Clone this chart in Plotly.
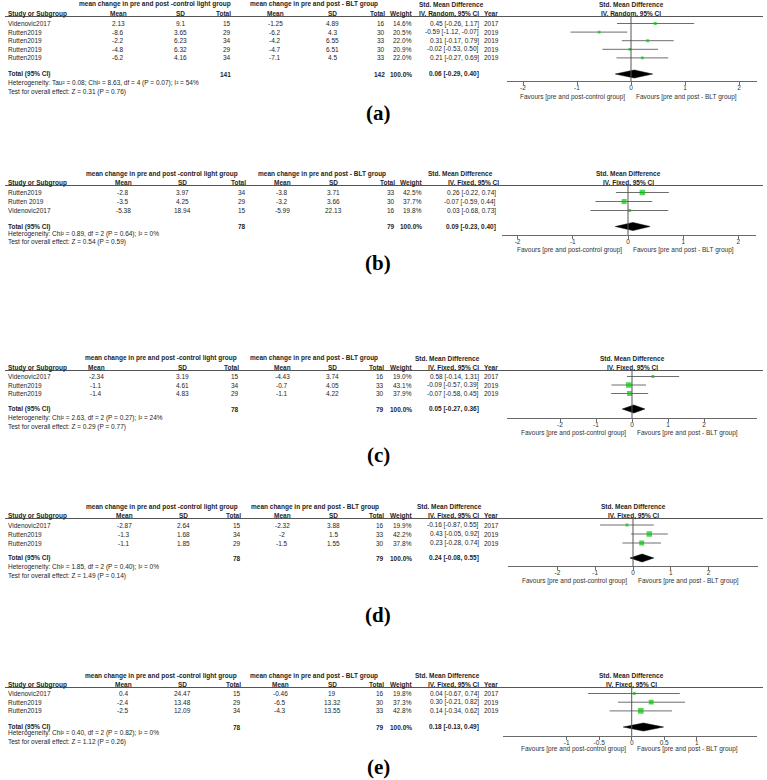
import plotly.graph_objects as go

W, H = 767, 780

# ---------------- DATA ----------------
# Panel (a)
a_study = ["Videnovic2017", "Rutten2019", "Rutten2019", "Rutten2019", "Rutten2019"]
a_ctrl_mean = [2.13, -8.6, -2.2, -4.8, -6.2]
a_ctrl_sd = [9.1, 3.65, 6.23, 6.32, 4.16]
a_ctrl_n = [15, 29, 34, 29, 34]
a_blt_mean = [-1.25, -6.2, -4.2, -4.7, -7.1]
a_blt_sd = [4.89, 4.3, 6.55, 6.51, 4.5]
a_blt_n = [16, 30, 33, 30, 33]
a_weight = [14.6, 20.5, 22.0, 20.9, 22.0]
a_smd = [0.45, -0.59, 0.31, -0.02, 0.21]
a_lo = [-0.26, -1.12, -0.17, -0.53, -0.27]
a_hi = [1.17, -0.07, 0.79, 0.50, 0.69]
a_year = [2017, 2019, 2019, 2019, 2019]
a_total_n = [141, 142]
a_total_smd = [0.06, -0.29, 0.40]
a_method = "IV. Random, 95% CI"
a_het = "Heterogeneity: Tau² = 0.08; Chi² = 8.63, df = 4 (P = 0.07); I² = 54%"
a_test = "Test for overall effect: Z = 0.31 (P = 0.76)"
a_ticks = [-2, -1, 0, 1, 2]

# Panel (b)
b_study = ["Rutten2019", "Rutten 2019", "Videnovic2017"]
b_ctrl_mean = [-2.8, -3.5, -5.38]
b_ctrl_sd = [3.97, 4.25, 18.94]
b_ctrl_n = [34, 29, 15]
b_blt_mean = [-3.8, -3.2, -5.99]
b_blt_sd = [3.71, 3.66, 22.13]
b_blt_n = [33, 30, 16]
b_weight = [42.5, 37.7, 19.8]
b_smd = [0.26, -0.07, 0.03]
b_lo = [-0.22, -0.59, -0.68]
b_hi = [0.74, 0.44, 0.73]
b_year = None
b_total_n = [78, 79]
b_total_smd = [0.09, -0.23, 0.40]
b_method = "IV. Fixed, 95% CI"
b_het = "Heterogeneity: Chi² = 0.89, df = 2 (P = 0.64); I² = 0%"
b_test = "Test for overall effect: Z = 0.54 (P = 0.59)"
b_ticks = [-2, -1, 0, 1, 2]

# Panel (c)
c_study = ["Videnovic2017", "Rutten2019", "Rutten2019"]
c_ctrl_mean = [-2.34, -1.1, -1.4]
c_ctrl_sd = [3.19, 4.61, 4.83]
c_ctrl_n = [15, 34, 29]
c_blt_mean = [-4.43, -0.7, -1.1]
c_blt_sd = [3.74, 4.05, 4.22]
c_blt_n = [16, 33, 30]
c_weight = [19.0, 43.1, 37.9]
c_smd = [0.58, -0.09, -0.07]
c_lo = [-0.14, -0.57, -0.58]
c_hi = [1.31, 0.39, 0.45]
c_year = [2017, 2019, 2019]
c_total_n = [78, 79]
c_total_smd = [0.05, -0.27, 0.36]
c_method = "IV. Fixed, 95% CI"
c_het = "Heterogeneity: Chi² = 2.63, df = 2 (P = 0.27); I² = 24%"
c_test = "Test for overall effect: Z = 0.29 (P = 0.77)"
c_ticks = [-2, -1, 0, 1, 2]

# Panel (d)
d_study = ["Videnovic2017", "Rutten2019", "Rutten2019"]
d_ctrl_mean = [-2.87, -1.3, -1.1]
d_ctrl_sd = [2.64, 1.68, 1.85]
d_ctrl_n = [15, 34, 29]
d_blt_mean = [-2.32, -2, -1.5]
d_blt_sd = [3.88, 1.5, 1.55]
d_blt_n = [16, 33, 30]
d_weight = [19.9, 42.2, 37.8]
d_smd = [-0.16, 0.43, 0.23]
d_lo = [-0.87, -0.05, -0.28]
d_hi = [0.55, 0.92, 0.74]
d_year = [2017, 2019, 2019]
d_total_n = [78, 79]
d_total_smd = [0.24, -0.08, 0.55]
d_method = "IV. Fixed, 95% CI"
d_het = "Heterogeneity: Chi² = 1.85, df = 2 (P = 0.40); I² = 0%"
d_test = "Test for overall effect: Z = 1.49 (P = 0.14)"
d_ticks = [-2, -1, 0, 1, 2]

# Panel (e)
e_study = ["Videnovic2017", "Rutten2019", "Rutten2019"]
e_ctrl_mean = [0.4, -2.4, -2.5]
e_ctrl_sd = [24.47, 13.48, 12.09]
e_ctrl_n = [15, 29, 34]
e_blt_mean = [-0.46, -6.5, -4.3]
e_blt_sd = [19, 13.32, 13.55]
e_blt_n = [16, 30, 33]
e_weight = [19.8, 37.3, 42.8]
e_smd = [0.04, 0.30, 0.14]
e_lo = [-0.67, -0.21, -0.34]
e_hi = [0.74, 0.82, 0.62]
e_year = [2017, 2019, 2019]
e_total_n = [78, 79]
e_total_smd = [0.18, -0.13, 0.49]
e_method = "IV. Fixed, 95% CI"
e_het = "Heterogeneity: Chi² = 0.40, df = 2 (P = 0.82); I² = 0%"
e_test = "Test for overall effect: Z = 1.12 (P = 0.26)"
e_ticks = [-1, -0.5, 0, 0.5, 1]

panel_labels = ["(a)", "(b)", "(c)", "(d)", "(e)"]
hdr_ctrl = "mean change in pre and post -control light group"
hdr_blt = "mean change in pre and post - BLT group"
fav_left = "Favours [pre and post-control group]"
fav_right = "Favours [pre and post - BLT group]"

# ---------------- LAYOUT (pixel positions) ----------------
L = [
    dict(h2=13.5, rule=16.5, r0=23.5, dy=8.6, total=74, het=83, test=91.5, axis=81, fav=97, lab=113,
         dom=(507, 757), x0=631, u=54,
         c=dict(cmean=118, csd=180, cn=232, bmean=275, bsd=332, bn=386, w=413, ci=480, yr=483,
                h1c=155, h1b=314, smd=451, fh=631)),
    dict(h2=182.5, rule=185.5, r0=192.5, dy=9.0, total=226.5, het=234, test=242, axis=235, fav=250, lab=263,
         dom=(502, 756), x0=628, u=55.2,
         c=dict(cmean=123, csd=182, cn=247, bmean=282, bsd=333, bn=396, w=423, ci=497, yr=None,
                h1c=162, h1b=322, smd=460, fh=628)),
    dict(h2=367.5, rule=370.5, r0=376.5, dy=8.5, total=409, het=418, test=427, axis=418, fav=433, lab=455,
         dom=(507, 757), x0=632, u=36,
         c=dict(cmean=96, csd=182, cn=240, bmean=282, bsd=332, bn=385, w=413, ci=480, yr=483,
                h1c=161, h1b=314, smd=447, fh=632)),
    dict(h2=515.5, rule=518.5, r0=525, dy=9.0, total=558, het=567, test=575.5, axis=566, fav=581, lab=615,
         dom=(508, 758), x0=633, u=37.8,
         c=dict(cmean=124, csd=183, cn=242, bmean=282, bsd=333, bn=385, w=413, ci=480, yr=483,
                h1c=162, h1b=315, smd=449, fh=633)),
    dict(h2=684.5, rule=687.5, r0=693.5, dy=8.7, total=727, het=733, test=741.5, axis=736, fav=749, lab=767,
         dom=(503, 757), x0=631.7, u=65,
         c=dict(cmean=123, csd=182, cn=242, bmean=280, bsd=332, bn=385, w=413, ci=480, yr=483,
                h1c=161, h1b=314, smd=447, fh=631)),
]

P = []
for pre in "abcde":
    g = globals()
    P.append({k: g[f"{pre}_{k}"] for k in
              ["study", "ctrl_mean", "ctrl_sd", "ctrl_n", "blt_mean", "blt_sd", "blt_n", "weight",
               "smd", "lo", "hi", "year", "total_n", "total_smd", "method", "het", "test", "ticks"]})

FONT = "Liberation Sans, Arial, sans-serif"
FS = 6.5
TXT = "#1e1e1e"
GREEN = "#00c800"
GRAY = "#6a6a6a"


def py(p):
    return 1 - p / H


def pxx(x):
    return x / W


fig = go.Figure()
ann = []
shapes = []
lay = {}


def t(text, x, y, anchor, yref="paper", bold=False, size=FS, family=FONT, color=TXT):
    if bold:
        text = f"<b>{text}</b>"
    ann.append(dict(text=text, x=x, y=y, xref="paper", yref=yref, xanchor=anchor, yanchor="middle",
                    showarrow=False, font=dict(family=family, size=size, color=color), borderpad=0))


fmt = lambda v: f"{v:g}"

for k, (d, l) in enumerate(zip(P, L), start=1):
    sfx = "" if k == 1 else str(k)
    xa, ya = f"x{sfx}", f"y{sfx}"
    c = l["c"]
    n = len(d["study"])
    idx = list(range(n))
    tot_i = (l["total"] - l["r0"]) / l["dy"]
    top_i = (l["rule"] - l["r0"]) / l["dy"]
    bot_i = (l["axis"] - l["r0"]) / l["dy"]

    # axes
    lay[f"xaxis{sfx}"] = dict(domain=[pxx(l["dom"][0]), pxx(l["dom"][1])],
                              range=[(l["dom"][0] - l["x0"]) / l["u"], (l["dom"][1] - l["x0"]) / l["u"]],
                              anchor=ya, showgrid=False, zeroline=False, showline=True, linecolor=GRAY,
                              linewidth=1, ticks="outside", ticklen=3, tickcolor=GRAY, tickvals=d["ticks"],
                              ticktext=[fmt(v) for v in d["ticks"]], ticklabelstandoff=-3,
                              tickfont=dict(family=FONT, size=FS, color="#333"), fixedrange=True)
    lay[f"yaxis{sfx}"] = dict(domain=[py(l["axis"]), py(l["rule"])], range=[bot_i, top_i],
                              anchor=xa, visible=False, fixedrange=True)

    # zero line
    shapes.append(dict(type="line", xref=xa, yref=f"{ya} domain", x0=0, x1=0, y0=0, y1=1,
                       line=dict(color="#555", width=1)))
    # header rule
    shapes.append(dict(type="line", xref="paper", yref="paper", x0=pxx(5), x1=pxx(763),
                       y0=py(l["rule"]), y1=py(l["rule"]), line=dict(color="#555", width=1)))

    # CI lines
    xs, ys = [], []
    for i in idx:
        xs += [d["lo"][i], d["hi"][i], None]
        ys += [i, i, None]
    fig.add_trace(go.Scatter(x=xs, y=ys, xaxis=xa, yaxis=ya, mode="lines",
                             line=dict(color="#6e6e6e", width=1), hoverinfo="skip"))
    # study squares
    fig.add_trace(go.Scatter(x=d["smd"], y=idx, xaxis=xa, yaxis=ya, mode="markers",
                             marker=dict(symbol="square", color=GREEN,
                                         size=[max(2.8, w * 0.13) for w in d["weight"]],
                                         line=dict(width=0))))
    # diamond
    est, lo, hi = d["total_smd"]
    hh = 4.0 / l["dy"]
    fig.add_trace(go.Scatter(x=[lo, est, hi, est, lo], y=[tot_i, tot_i - hh, tot_i, tot_i + hh, tot_i],
                             xaxis=xa, yaxis=ya, mode="lines", fill="toself", fillcolor="black",
                             line=dict(color="black", width=0.5)))

    # headers
    h1 = l["h2"] - 9
    t(hdr_ctrl, pxx(c["h1c"]), py(h1), "center", bold=True)
    t(hdr_blt, pxx(c["h1b"]), py(h1), "center", bold=True)
    t("Std. Mean Difference", pxx(c["smd"]), py(h1), "center", bold=True)
    t("Std. Mean Difference", pxx(c["fh"]), py(h1), "center", bold=True)
    h2 = l["h2"]
    t("Study or Subgroup", pxx(7), py(h2), "left", bold=True)
    t("Mean", pxx(c["cmean"]), py(h2), "center", bold=True)
    t("SD", pxx(c["csd"]), py(h2), "center", bold=True)
    t("Total", pxx(c["cn"]), py(h2), "right", bold=True)
    t("Mean", pxx(c["bmean"]), py(h2), "center", bold=True)
    t("SD", pxx(c["bsd"]), py(h2), "center", bold=True)
    t("Total", pxx(c["bn"]), py(h2), "right", bold=True)
    t("Weight", pxx(c["w"]), py(h2), "right", bold=True)
    t(d["method"], pxx(c["ci"] + (3 if c["yr"] is None else 0)), py(h2), "right", bold=True)
    if c["yr"] is not None:
        t("Year", pxx(c["yr"]), py(h2), "left", bold=True)
    t(d["method"], pxx(c["fh"]), py(h2), "center", bold=True)

    # rows
    for i in idx:
        t(d["study"][i], pxx(7), i, "left", yref=ya)
        t(fmt(d["ctrl_mean"][i]), pxx(c["cmean"]), i, "center", yref=ya)
        t(fmt(d["ctrl_sd"][i]), pxx(c["csd"]), i, "center", yref=ya)
        t(str(d["ctrl_n"][i]), pxx(c["cn"]), i, "right", yref=ya)
        t(fmt(d["blt_mean"][i]), pxx(c["bmean"]), i, "center", yref=ya)
        t(fmt(d["blt_sd"][i]), pxx(c["bsd"]), i, "center", yref=ya)
        t(str(d["blt_n"][i]), pxx(c["bn"]), i, "right", yref=ya)
        t(f"{d['weight'][i]:.1f}%", pxx(c["w"]), i, "right", yref=ya)
        t(f"{d['smd'][i]:.2f} [{d['lo'][i]:.2f}, {d['hi'][i]:.2f}]", pxx(c["ci"]), i, "right", yref=ya)
        if d["year"] is not None:
            t(str(d["year"][i]), pxx(c["yr"]), i, "left", yref=ya)

    # total row
    t("Total (95% CI)", pxx(7), tot_i, "left", yref=ya, bold=True)
    t(str(d["total_n"][0]), pxx(c["cn"]), tot_i, "right", yref=ya, bold=True)
    t(str(d["total_n"][1]), pxx(c["bn"]), tot_i, "right", yref=ya, bold=True)
    t("100.0%", pxx(c["w"]), tot_i, "right", yref=ya, bold=True)
    t(f"{est:.2f} [{lo:.2f}, {hi:.2f}]", pxx(c["ci"]), tot_i, "right", yref=ya, bold=True)
    t(d["het"], pxx(7), py(l["het"]), "left")
    t(d["test"], pxx(7), py(l["test"]), "left")

    # favours labels
    ann.append(dict(text=fav_left, x=0, y=py(l["fav"]), xref=xa, yref="paper", xanchor="right",
                    yanchor="middle", xshift=-4, showarrow=False, font=dict(family=FONT, size=FS, color="#333")))
    ann.append(dict(text=fav_right, x=0, y=py(l["fav"]), xref=xa, yref="paper", xanchor="left",
                    yanchor="middle", xshift=3, showarrow=False, font=dict(family=FONT, size=FS, color="#333")))

    # panel label
    t(panel_labels[k - 1], pxx(378), py(l["lab"]), "center", bold=True, size=21,
      family="Liberation Serif, Times New Roman, serif", color="black")

fig.update_layout(width=W, height=H, margin=dict(l=0, r=0, t=0, b=0), paper_bgcolor="white",
                  plot_bgcolor="white", showlegend=False, annotations=ann, shapes=shapes, **lay)
fig.write_html("out.html")
